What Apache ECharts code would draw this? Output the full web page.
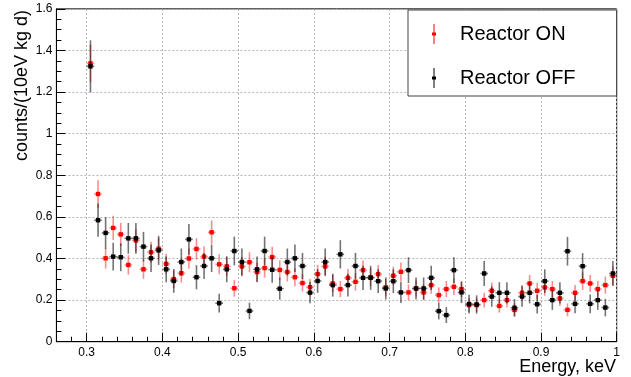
<!DOCTYPE html>
<html>
<head>
<meta charset="utf-8">
<script src="https://cdn.jsdelivr.net/npm/echarts/dist/echarts.min.js"></script>
<style>html,body{margin:0;padding:0;background:#fff}#c{width:631px;height:377px}</style>
</head>
<body>
<div id="c"></div>
<script>
// ---- data ----
const energy = [0.305,0.315,0.325,0.335,0.345,0.355,0.365,0.375,0.385,0.395,
  0.405,0.415,0.425,0.435,0.445,0.455,0.465,0.475,0.485,0.495,
  0.505,0.515,0.525,0.535,0.545,0.555,0.565,0.575,0.585,0.595,
  0.605,0.615,0.625,0.635,0.645,0.655,0.665,0.675,0.685,0.695,
  0.705,0.715,0.725,0.735,0.745,0.755,0.765,0.775,0.785,0.795,
  0.805,0.815,0.825,0.835,0.845,0.855,0.865,0.875,0.885,0.895,
  0.905,0.915,0.925,0.935,0.945,0.955,0.965,0.975,0.985,0.995];
const binHalfWidth = 0.005;

const reactorOn = [1.338,0.710,0.401,0.547,0.516,0.369,0.487,0.348,0.430,0.447,
  0.374,0.301,0.329,0.400,0.446,0.409,0.526,0.372,0.362,0.257,
  0.362,0.382,0.335,0.354,0.407,0.345,0.335,0.310,0.282,0.262,
  0.325,0.362,0.280,0.253,0.307,0.288,0.344,0.310,0.325,0.261,
  0.317,0.336,0.237,0.256,0.237,0.272,0.224,0.253,0.264,0.253,
  0.176,0.176,0.200,0.245,0.172,0.200,0.153,0.235,0.280,0.245,
  0.261,0.253,0.208,0.153,0.235,0.291,0.280,0.253,0.272,0.317];
const reactorOnErr = [0.090,0.066,0.049,0.058,0.056,0.047,0.054,0.046,0.051,0.052,
  0.048,0.043,0.045,0.049,0.052,0.050,0.057,0.048,0.047,0.040,
  0.047,0.048,0.045,0.046,0.050,0.046,0.045,0.043,0.041,0.040,
  0.044,0.047,0.041,0.039,0.043,0.042,0.046,0.043,0.044,0.040,
  0.044,0.045,0.038,0.039,0.038,0.041,0.037,0.039,0.040,0.039,
  0.033,0.033,0.035,0.039,0.032,0.035,0.031,0.038,0.041,0.039,
  0.040,0.039,0.036,0.031,0.038,0.042,0.041,0.039,0.041,0.044];

const reactorOff = [1.324,0.584,0.523,0.409,0.406,0.497,0.497,0.457,0.401,0.439,
  0.348,0.292,0.383,0.492,0.310,0.364,0.401,0.185,0.348,0.436,
  0.383,0.148,0.348,0.436,0.346,0.255,0.383,0.401,0.364,0.236,
  0.292,0.383,0.272,0.420,0.272,0.364,0.307,0.307,0.291,0.256,
  0.291,0.237,0.344,0.256,0.256,0.307,0.147,0.128,0.344,0.237,
  0.181,0.179,0.328,0.217,0.235,0.235,0.163,0.217,0.235,0.180,
  0.291,0.200,0.235,0.435,0.182,0.363,0.182,0.200,0.164,0.328];
const reactorOffErr = [0.125,0.080,0.076,0.067,0.067,0.074,0.074,0.071,0.066,0.070,
  0.062,0.057,0.065,0.074,0.058,0.063,0.066,0.045,0.062,0.069,
  0.065,0.040,0.062,0.069,0.062,0.053,0.065,0.066,0.063,0.051,
  0.057,0.065,0.055,0.068,0.055,0.063,0.058,0.058,0.057,0.053,
  0.057,0.051,0.062,0.053,0.053,0.058,0.040,0.038,0.062,0.051,
  0.045,0.044,0.060,0.049,0.051,0.051,0.042,0.049,0.051,0.045,
  0.057,0.047,0.051,0.069,0.045,0.063,0.045,0.047,0.042,0.060];

const xMajorTicks = [0.3,0.4,0.5,0.6,0.7,0.8,0.9,1.0];
const xTickLabels = ['0.3','0.4','0.5','0.6','0.7','0.8','0.9','1'];
const yTickLabels = ['0','0.2','0.4','0.6','0.8','1','1.2','1.4','1.6'];
const seriesNames = ['Reactor ON','Reactor OFF'];
const xTitle = 'Energy, keV';
const yTitle = 'counts/(10eV kg d)';

// ---- chart ----
const FONT = 'Liberation Sans, Arial, Helvetica, sans-serif';
function rows(xs, ys, es){ return xs.map((x,i)=>[x, ys[i], es[i]]); }
function errRender(markColor, barColor){
  return function(params, api){
    const x = api.value(0), y = api.value(1), e = api.value(2);
    const c = api.coord([x, y]);
    const t = api.coord([x, y + e]);
    const b = api.coord([x, y - e]);
    const l = api.coord([x - binHalfWidth, y]);
    const r = api.coord([x + binHalfWidth, y]);
    return {type:'group', children:[
      {type:'line', shape:{x1:c[0], y1:t[1], x2:c[0], y2:b[1]}, style:{stroke:barColor, lineWidth:1.6}},
      {type:'line', shape:{x1:l[0], y1:c[1], x2:r[0], y2:c[1]}, style:{stroke:barColor, lineWidth:1.6}},
      {type:'rect', shape:{x:c[0]-2.2, y:c[1]-2.2, width:4.4, height:4.4}, style:{fill:markColor}}
    ]};
  };
}
const legendIcon = 'path://M2.5,0 L3.5,0 L3.5,20 L2.5,20 Z M1,8.5 L5,8.5 L5,11.5 L1,11.5 Z';

const chart = echarts.init(document.getElementById('c'), null, {renderer:'canvas'});
chart.setOption({
  animation:false,
  backgroundColor:'#fff',
  grid:{left:56.4, right:14.3, top:8.9, bottom:35.3, show:true, borderColor:'#000', borderWidth:1, backgroundColor:'transparent'},
  xAxis:[{
    type:'value', min:0.26, max:1.0, position:'bottom',
    axisLine:{show:true, onZero:false, lineStyle:{color:'#000', width:1}},
    axisTick:{show:true, inside:true, length:9, customValues:xMajorTicks, lineStyle:{color:'#000'}},
    axisLabel:{show:true, customValues:xMajorTicks, margin:5, fontSize:12, fontFamily:FONT, color:'#000',
      formatter:(v)=>{ const i = xMajorTicks.findIndex(t=>Math.abs(t-v)<1e-9); return i<0?'':xTickLabels[i]; }},
    splitLine:{show:true, lineStyle:{color:'#b4b4b4', type:[2,2], width:1}}
  },{
    type:'value', min:0.26, max:1.0, interval:0.02, position:'bottom',
    axisLine:{show:false}, axisLabel:{show:false}, splitLine:{show:false},
    axisTick:{show:true, inside:true, length:5, lineStyle:{color:'#000'}}
  }],
  yAxis:{
    type:'value', min:0, max:1.6, interval:0.2,
    axisLine:{show:true, lineStyle:{color:'#000', width:1}},
    axisTick:{show:true, inside:true, length:9, lineStyle:{color:'#000'}},
    minorTick:{show:true, splitNumber:4, length:5, lineStyle:{color:'#000'}},
    axisLabel:{margin:4, fontSize:12, fontFamily:FONT, color:'#000',
      formatter:(v, i)=> yTickLabels[Math.round(v/0.2)]},
    splitLine:{show:true, lineStyle:{color:'#b4b4b4', type:[2,2], width:1}}
  },
  legend:{
    orient:'vertical', left:408, top:10,
    padding:[14, 41, 8, 24], itemWidth:6, itemHeight:20, itemGap:24,
    backgroundColor:'#fff', borderColor:'#444', borderWidth:1, borderRadius:0,
    icon:legendIcon,
    textStyle:{fontSize:20, fontFamily:FONT, color:'#000', lineHeight:20, padding:[0,0,0,18]},
    data:seriesNames
  },
  graphic:[
    {type:'text', x:22, y:10, rotation:Math.PI/2,
      style:{text:yTitle, fontSize:18, fontFamily:FONT, fill:'#000', textAlign:'right', textVerticalAlign:'middle'}},
    {type:'text', x:616, y:367,
      style:{text:xTitle, fontSize:18, fontFamily:FONT, fill:'#000', textAlign:'right', textVerticalAlign:'middle'}}
  ],
  series:[
    {name:seriesNames[0], type:'custom', xAxisIndex:0, itemStyle:{color:'#ff0000'},
      renderItem:errRender('#ff0000','rgba(255,0,0,0.45)'), encode:{x:0, y:1},
      data:rows(energy, reactorOn, reactorOnErr), z:2},
    {name:seriesNames[1], type:'custom', xAxisIndex:0, itemStyle:{color:'#000000'},
      renderItem:errRender('#000000','rgba(0,0,0,0.55)'), encode:{x:0, y:1},
      data:rows(energy, reactorOff, reactorOffErr), z:3}
  ]
});
</script>
</body>
</html>
